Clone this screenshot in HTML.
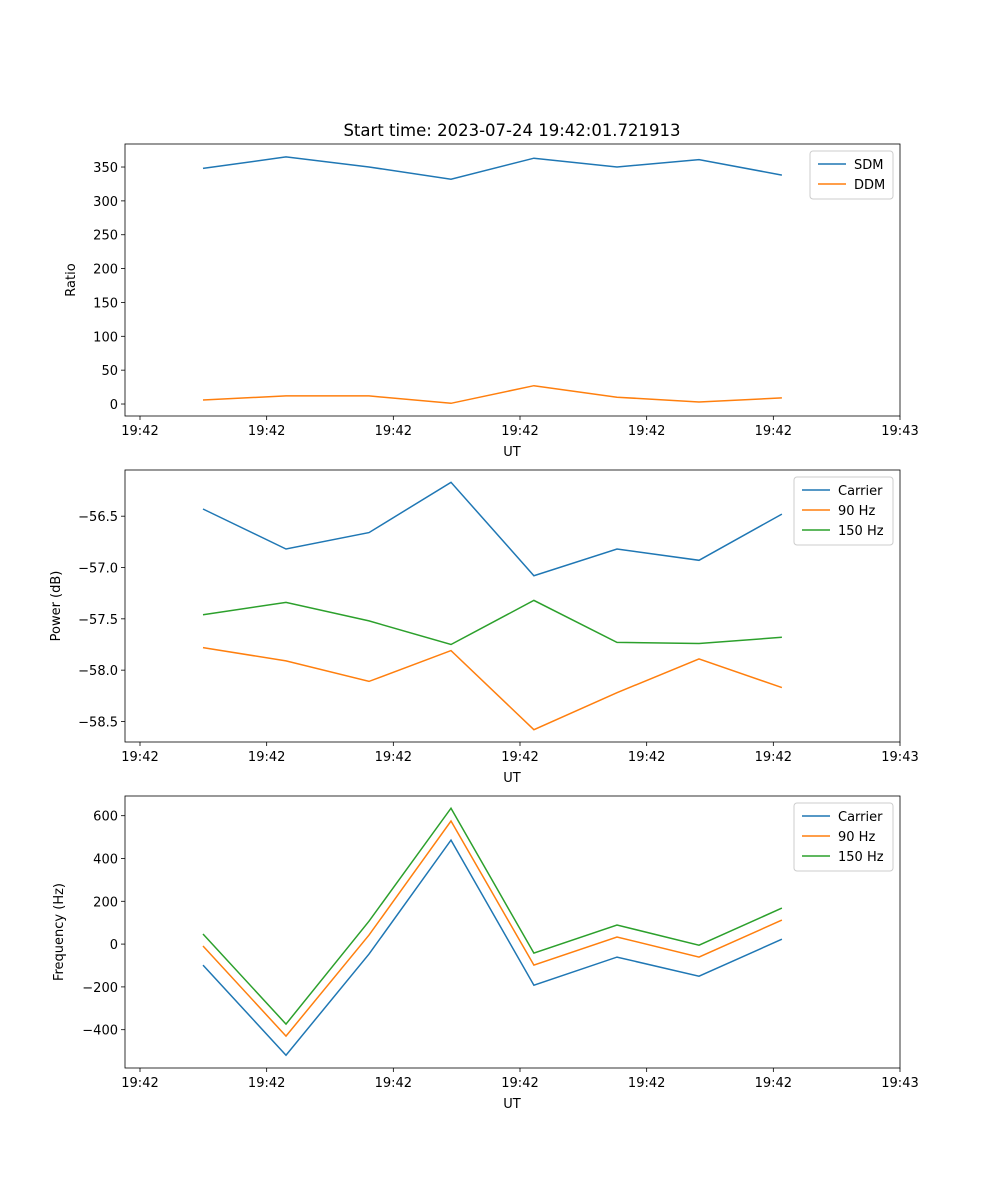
<!DOCTYPE html>
<html><head><meta charset="utf-8"><style>
body{margin:0;background:#fff}
svg{display:block;font-family:"DejaVu Sans","Liberation Sans",sans-serif}
</style></head><body>
<svg id="fig" width="1000" height="1200" viewBox="0 0 1000 1200">
<text x="512" y="136" font-size="16.5" text-anchor="middle">Start time: 2023-07-24 19:42:01.721913</text>
</svg>
<script>
const times=[4.97,11.53,18.08,24.55,31.1,37.66,44.13,50.68];
const xTicks=[0,10,20,30,40,50,60];
const xTickLabels=["19:42","19:42","19:42","19:42","19:42","19:42","19:43"];
const sdm=[348,365,350,332,363,350,361,338];
const ddm=[6,12,12,1,27,10,3,9];
const powCarrier=[-56.43,-56.82,-56.66,-56.17,-57.08,-56.82,-56.93,-56.48];
const pow90=[-57.78,-57.91,-58.11,-57.81,-58.58,-58.22,-57.89,-58.17];
const pow150=[-57.46,-57.34,-57.52,-57.75,-57.32,-57.73,-57.74,-57.68];
const freqCarrier=[-98,-519,-47,486,-192,-61,-150,23];
const freq90=[-9,-430,42,575,-98,33,-61,112];
const freq150=[47,-374,107,635,-42,89,-5,168];
const ticks1=[0,50,100,150,200,250,300,350];
const ticks2=[-58.5,-58.0,-57.5,-57.0,-56.5];
const ticks3=[-400,-200,0,200,400,600];

const NS="http://www.w3.org/2000/svg";
const svg=document.getElementById('fig');
function mk(tag,attrs,parent){const e=document.createElementNS(NS,tag);for(const k in attrs)e.setAttribute(k,attrs[k]);(parent||svg).appendChild(e);return e;}
const X0=125,X1=900;
function xs(t){return 140+(t-0)*(900-140)/60;}
const C=['#1f77b4','#ff7f0e','#2ca02c'];

function panel(name,top,bot,ymin,ymax,ticks,fmt,ylabel,ylx,series,labels,legW){
  const g=mk('g',{});
  
  
  const ys=v=>bot-(v-ymin)/(ymax-ymin)*(bot-top);
  series.forEach((s,i)=>{
    const pts=s.map((v,j)=>xs(times[j]).toFixed(1)+','+ys(v).toFixed(1)).join(' ');
    const p=mk('polyline',{points:pts,fill:'none',stroke:C[i],'stroke-width':1.5},g);
    
    
  });
  const fr=mk('rect',{x:X0,y:top,width:X1-X0,height:bot-top,fill:'none',stroke:'#000','stroke-width':0.8},g);
  
  
  xTicks.forEach((t,i)=>{
    const x=xs(t);
    mk('line',{x1:x,x2:x,y1:bot,y2:bot+4,stroke:'#000','stroke-width':0.8},g);
    const tx=mk('text',{x:x,y:bot+19,'font-size':13,'text-anchor':'middle'},g);
    tx.textContent=xTickLabels[i];
    
    
  });
  const xl=mk('text',{x:512,y:bot+40,'font-size':13,'text-anchor':'middle'},g);
  xl.textContent='UT';
  
  
  ticks.forEach(v=>{
    const y=ys(v);
    mk('line',{x1:X0-4,x2:X0,y1:y,y2:y,stroke:'#000','stroke-width':0.8},g);
    const tx=mk('text',{x:X0-7,y:y+5,'font-size':13,'text-anchor':'end'},g);
    tx.textContent=fmt(v);
    
    
  });
  const cy=(top+bot)/2;
  const yl=mk('text',{x:ylx,y:cy,'font-size':13,'text-anchor':'middle',transform:'rotate(-90 '+ylx+' '+cy+')'},g);
  yl.textContent=ylabel;
  
  
  const lx=X1-7-legW, ly=top+7, lh=8+series.length*20;
  const lg=mk('g',{},g);
  
  
  mk('rect',{x:lx,y:ly,width:legW,height:lh,rx:3,fill:'#fff','fill-opacity':0.8,stroke:'#ccc'},lg);
  labels.forEach((l,i)=>{
    const yy=ly+13+i*20;
    mk('line',{x1:lx+8,x2:lx+36,y1:yy,y2:yy,stroke:C[i],'stroke-width':1.5},lg);
    const t=mk('text',{x:lx+44,y:yy+5,'font-size':13},lg);
    t.textContent=l;
    
    
  });
}
panel('ratio',144,416,-17.7,384,ticks1,v=>String(v),'Ratio',75,[sdm,ddm],['SDM','DDM'],83);
panel('power',470,742,-58.70,-56.05,ticks2,v=>'\u2212'+Math.abs(v).toFixed(1),'Power (dB)',60,[powCarrier,pow90,pow150],['Carrier','90 Hz','150 Hz'],99);
panel('frequency',796,1068,-579,692,ticks3,v=>(v<0?'\u2212':'')+Math.abs(v),'Frequency (Hz)',63,[freqCarrier,freq90,freq150],['Carrier','90 Hz','150 Hz'],99);
</script>
</body></html>
